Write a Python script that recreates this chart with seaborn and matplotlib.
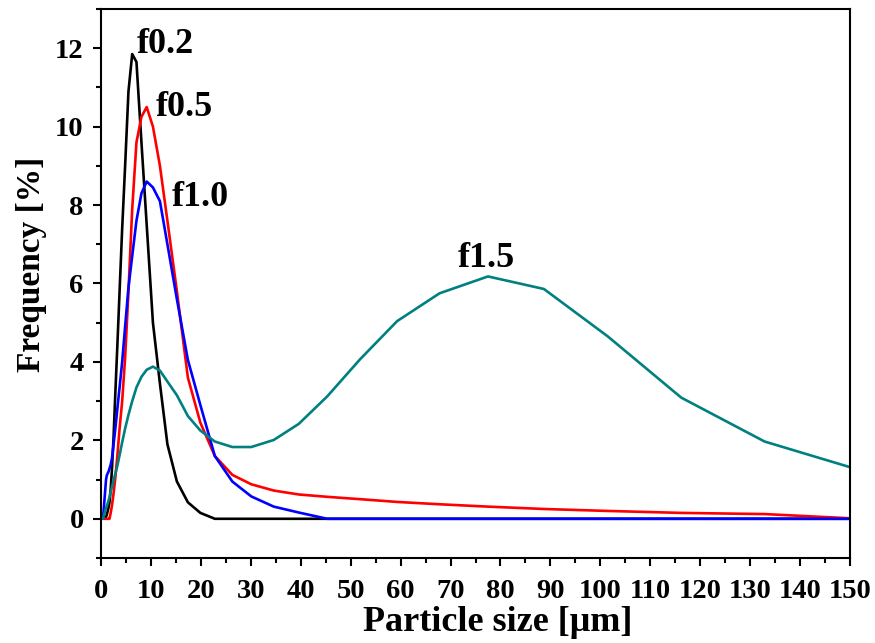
import matplotlib
matplotlib.use("Agg")
from matplotlib import pyplot as plt
from matplotlib.ticker import MultipleLocator
import pandas as pd
import seaborn as sns

# particle size grid [um]
sizes = [0.4, 1.01, 1.15, 1.31, 1.5, 1.7, 1.94, 2.21, 2.52, 2.87,
         3.27, 3.72, 4.24, 4.83, 5.5, 6.25, 7.1, 8.1, 9.15, 10.4,
         11.8, 13.3, 15.2, 17.4, 19.9, 22.8, 26.3, 30.1, 34.6, 39.6,
         45.3, 51.9, 59.3, 67.8, 77.5, 88.7, 101.5, 116.2, 132.9, 152.0]

# frequency [%] for each sample
f02 = [0, 0.05, 0.1, 0.18, 0.28, 0.42, 0.75, 1.3, 2.1, 3.2,
       4.4, 5.8, 7.4, 9.0, 10.9, 11.85, 11.65, 9.6, 7.5, 5.0,
       3.45, 1.9, 0.95, 0.42, 0.15, 0, 0, 0, 0, 0,
       0, 0, 0, 0, 0, 0, 0, 0, 0, 0]
f05 = [0, 0, 0, 0, 0, 0, 0.15, 0.35, 0.65, 1.05,
       1.6, 2.3, 3.0, 4.1, 5.8, 7.9, 9.6, 10.25, 10.5, 10.0,
       9.0, 7.6, 5.8, 3.6, 2.45, 1.6, 1.12, 0.88, 0.72, 0.62,
       0.56, 0.5, 0.43, 0.37, 0.31, 0.25, 0.2, 0.15, 0.12, 0.0]
f10 = [0, 1.0, 1.1, 1.15, 1.2, 1.28, 1.38, 1.55, 1.9, 2.3,
       2.8, 3.35, 4.0, 4.9, 5.9, 6.7, 7.6, 8.3, 8.6, 8.45,
       8.1, 7.0, 5.6, 4.05, 2.9, 1.6, 0.95, 0.57, 0.31, 0.16,
       0, 0, 0, 0, 0, 0, 0, 0, 0, 0]
f15 = [0, 0.28, 0.32, 0.38, 0.46, 0.55, 0.68, 0.82, 0.98, 1.15,
       1.35, 1.62, 1.95, 2.3, 2.65, 3.0, 3.35, 3.62, 3.8, 3.88,
       3.78, 3.5, 3.15, 2.62, 2.25, 1.97, 1.83, 1.83, 2.01, 2.42,
       3.12, 4.07, 5.04, 5.75, 6.18, 5.86, 4.65, 3.09, 1.97, 1.24]

samples = ["f0.2", "f0.5", "f1.0", "f1.5"]
colors = ["black", "#ff0000", "#0000ff", "#008080"]
# label positions (data coords)
label_x = [7.1, 10.9, 14.1, 71.4]
label_y = [12.1, 10.5, 8.2, 6.65]

df = pd.DataFrame({
    "size": sizes * 4,
    "freq": f02 + f05 + f10 + f15,
    "sample": [s for s in samples for _ in sizes],
})

sns.set_style("ticks")
plt.rcParams["font.family"] = ["Liberation Serif", "DejaVu Serif"]
plt.rcParams["font.weight"] = "bold"
for k in ["text.color", "axes.labelcolor", "xtick.color", "ytick.color", "axes.edgecolor"]:
    plt.rcParams[k] = "black"

fig = plt.figure(figsize=(8.75, 6.43), dpi=100)
ax = fig.add_axes([101 / 875, 1 - 558 / 643, 749 / 875, 549 / 643])

sns.lineplot(data=df, x="size", y="freq", hue="sample", hue_order=samples,
             palette=colors, linewidth=1.9, sort=False, legend=False, ax=ax)

for s, lx, ly in zip(samples, label_x, label_y):
    ax.text(lx, ly, s, fontsize=26, fontweight="bold", ha="left", va="center")

ax.set_xlim(0, 150)
ax.set_ylim(-1, 13)
ax.xaxis.set_major_locator(MultipleLocator(10))
ax.xaxis.set_minor_locator(MultipleLocator(5))
ax.yaxis.set_major_locator(MultipleLocator(2))
ax.yaxis.set_minor_locator(MultipleLocator(1))
ax.tick_params(which="major", direction="out", length=6, width=1.5,
               labelsize=20.5, top=False, right=False)
ax.tick_params(axis="x", which="major", pad=9)
ax.tick_params(axis="y", which="major", pad=6.5)
ax.tick_params(which="minor", direction="out", length=3.5, width=1.5,
               top=False, right=False)
for lab in ax.get_xticklabels() + ax.get_yticklabels():
    lab.set_fontweight("bold")
for sp in ax.spines.values():
    sp.set_linewidth(1.5)
    sp.set_visible(True)

ax.set_xlabel("Particle size [μm]", fontsize=26, fontweight="bold")
ax.set_ylabel("Frequency [%]", fontsize=24, fontweight="bold")
ax.xaxis.set_label_coords(0.53, -0.088)
ax.yaxis.set_label_coords(-0.072, 0.535)

fig.savefig("out.png", dpi=100)
